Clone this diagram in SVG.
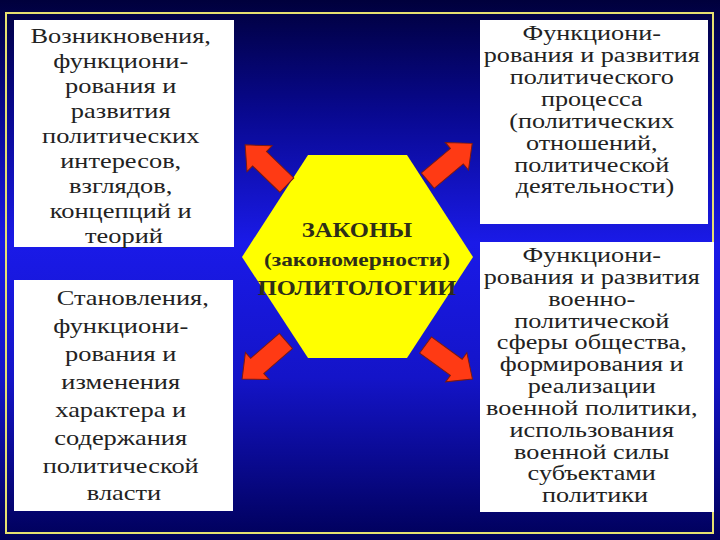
<svg xmlns="http://www.w3.org/2000/svg" width="720" height="540" viewBox="0 0 720 540">
<defs>
<linearGradient id="bg" x1="0" y1="0" x2="0" y2="1">
<stop offset="0" stop-color="#00003c"/>
<stop offset="0.2" stop-color="#08088c"/>
<stop offset="0.45" stop-color="#1a1ae8"/>
<stop offset="0.7" stop-color="#1414c8"/>
<stop offset="1" stop-color="#00005a"/>
</linearGradient>
<path id="arrow" d="M-29,-10 L9,-10 L9,-18 L29,0 L9,18 L9,10 L-29,10 Z"/>
<style>
.box{fill:#ffffff}
.t{font-family:'Liberation Serif','Times New Roman',serif;fill:#222;text-anchor:middle}
.l{font-size:22px}
.r{font-size:20px}
.c{font-family:'Liberation Serif','Times New Roman',serif;font-weight:bold;fill:#2e2e18;text-anchor:middle}
.arr{fill:#ff3a14;stroke:#7a1a10;stroke-width:1}
</style>
</defs>
<rect width="720" height="540" fill="url(#bg)"/>
<rect x="6" y="13" width="707" height="520" fill="none" stroke="#e6e070" stroke-width="2"/>

<g id="node-left-top">
<rect class="box" x="14" y="20" width="220" height="227"/>
<text class="t l" transform="translate(124,0) scale(1.2,1)">
<tspan x="0" y="43">Возникновения,</tspan>
<tspan x="0" y="68">функциони-</tspan>
<tspan x="0" y="93">рования и</tspan>
<tspan x="0" y="118">развития</tspan>
<tspan x="0" y="143">политических</tspan>
<tspan x="0" y="168">интересов,</tspan>
<tspan x="0" y="193">взглядов,</tspan>
<tspan x="0" y="218">концепций и</tspan>
<tspan x="0" y="243">теорий</tspan>
</text>
</g>

<g id="node-left-bottom">
<rect class="box" x="14" y="280" width="219" height="231"/>
<text class="t l" transform="translate(124,0) scale(1.2,1)">
<tspan x="10" y="305">Становления,</tspan>
<tspan x="0" y="333">функциони-</tspan>
<tspan x="0" y="361">рования и</tspan>
<tspan x="0" y="389">изменения</tspan>
<tspan x="0" y="417">характера и</tspan>
<tspan x="0" y="445">содержания</tspan>
<tspan x="0" y="473">политической</tspan>
<tspan x="0" y="500">власти</tspan>
</text>
</g>

<g id="node-right-top">
<rect class="box" x="480" y="20" width="228" height="204"/>
<text class="t r" transform="translate(595,0) scale(1.31,1)">
<tspan x="0" y="40">Функциони-</tspan>
<tspan x="0" y="62">рования и развития</tspan>
<tspan x="0" y="84">политического</tspan>
<tspan x="0" y="106">процесса</tspan>
<tspan x="0" y="128">(политических</tspan>
<tspan x="0" y="150">отношений,</tspan>
<tspan x="0" y="172">политической</tspan>
<tspan x="0" y="193">деятельности)</tspan>
</text>
</g>

<g id="node-right-bottom">
<rect class="box" x="480" y="242" width="234" height="270"/>
<text class="t r" transform="translate(595,0) scale(1.31,1)">
<tspan x="0" y="262">Функциони-</tspan>
<tspan x="0" y="284">рования и развития</tspan>
<tspan x="0" y="306">военно-</tspan>
<tspan x="0" y="328">политической</tspan>
<tspan x="0" y="349">сферы общества,</tspan>
<tspan x="0" y="371">формирования и</tspan>
<tspan x="0" y="393">реализации</tspan>
<tspan x="0" y="415">военной политики,</tspan>
<tspan x="0" y="437">использования</tspan>
<tspan x="0" y="459">военной силы</tspan>
<tspan x="0" y="480">субъектами</tspan>
<tspan x="0" y="502">политики</tspan>
</text>
</g>

<g id="node-center">
<polygon points="308,155 407,155 473,257 407,358 308,358 242,257" fill="#ffff00"/>
<text class="c" font-size="22" transform="translate(357,237) scale(1.12,1)">ЗАКОНЫ</text>
<text class="c" font-size="18" transform="translate(357,266) scale(1.3,1)">(закономерности)</text>
<text class="c" font-size="22" transform="translate(357,295) scale(1.11,1)">ПОЛИТОЛОГИИ</text>
</g>

<g id="connectors">
<use href="#arrow" class="arr" transform="translate(266,165) rotate(-136)"/>
<use href="#arrow" class="arr" transform="translate(450,162) rotate(-40)"/>
<use href="#arrow" class="arr" transform="translate(264,360) rotate(139)"/>
<use href="#arrow" class="arr" transform="translate(449,362) rotate(36)"/>
</g>
</svg>
